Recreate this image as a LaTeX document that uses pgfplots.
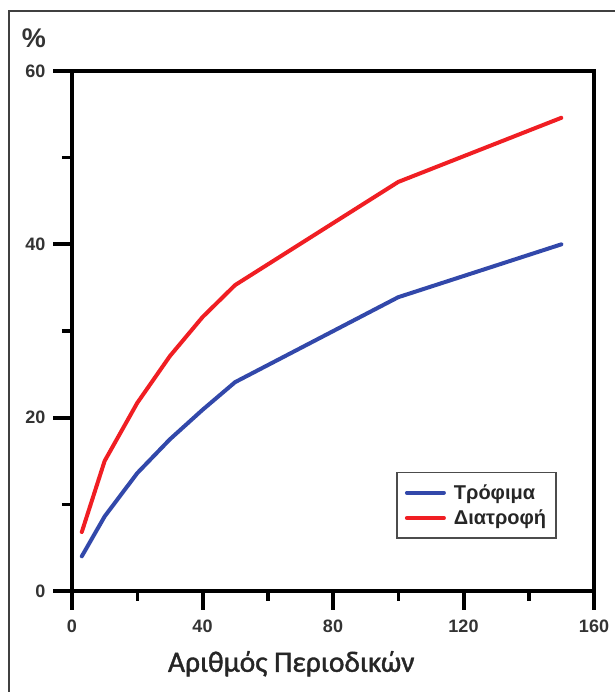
\documentclass[border=0pt]{standalone}
\usepackage{fontspec}
\setmainfont{Liberation Sans}
\newfontfamily\labelfont[FakeBold=1.3]{Carlito}
\usepackage{pgfplots}
\pgfplotsset{compat=1.18}
\definecolor{cblue}{RGB}{50,72,170}
\definecolor{cred}{RGB}{240,30,35}
\begin{document}
\begin{tikzpicture}[x=1pt,y=1pt]
\useasboundingbox (0,0) rectangle (614,692);
\draw[line width=1.5pt, black!75] (9,681) rectangle (650,-30);
\begin{axis}[
  at={(72pt,101pt)}, anchor=south west,
  scale only axis, width=522pt, height=520pt,
  xmin=0, xmax=160, ymin=0, ymax=60,
  clip=false,
  xtick={0,40,80,120,160}, ytick={0,20,40,60},
  minor x tick num=1, minor y tick num=1,
  xtick pos=bottom, ytick pos=left,
  xtick align=outside, ytick align=outside,
  major tick length=18pt, minor tick length=10pt,
  major tick style={line width=3.5pt, black},
  minor tick style={line width=3.5pt, black},
  axis line style={line width=3.5pt},
  /pgf/number format/assume math mode=true,
  ticklabel style={font=\bfseries\fontsize{18}{18}\selectfont, text=black!80},
  xticklabel style={anchor=north, yshift=-7pt},
  yticklabel style={anchor=east, xshift=-5pt},
  ylabel={\%}, xlabel={Αριθμός Περιοδικών},
  every axis y label/.style={at={(axis description cs:-0.073,1.063)}, anchor=center, font=\bfseries\fontsize{27}{27}\selectfont, text=black!80},
  every axis x label/.style={at={(axis description cs:0.42,-0.140)}, anchor=center, font=\labelfont\fontsize{29.5}{29.5}\selectfont, text=black!85},
  legend style={at={(axis description cs:0.621,0.229)}, anchor=north west, draw=black!70, line width=1.5pt, font=\bfseries\fontsize{20}{22}\selectfont, text=black!85, inner xsep=8pt, inner ysep=10pt, row sep=5pt},
  legend cell align=left,
  legend image code/.code={\draw[#1, line width=4pt] (0pt,0pt) -- (37pt,0pt); \path (43pt,0pt);},
]
\pgfplotsinvokeforeach{0,40,80,120,160}{\draw[line width=4pt, black] (axis cs:#1,0) -- ++(0pt,-19pt);}
\pgfplotsinvokeforeach{0,20,40,60}{\draw[line width=4pt, black] (axis cs:0,#1) -- ++(-19pt,0pt);}
\addplot[cblue, line width=4pt, line join=round, line cap=round] coordinates {
  (3,4.0) (10,8.6) (20,13.6) (30,17.5) (40,20.9) (50,24.1) (100,33.9) (150,40.0)
};
\addlegendentry{Τρόφιμα}
\addplot[cred, line width=4pt, line join=round, line cap=round] coordinates {
  (3,6.8) (10,15.0) (20,21.7) (30,27.1) (40,31.6) (50,35.3) (100,47.2) (150,54.6)
};
\addlegendentry{Διατροφή}
\end{axis}
\end{tikzpicture}
\end{document}
